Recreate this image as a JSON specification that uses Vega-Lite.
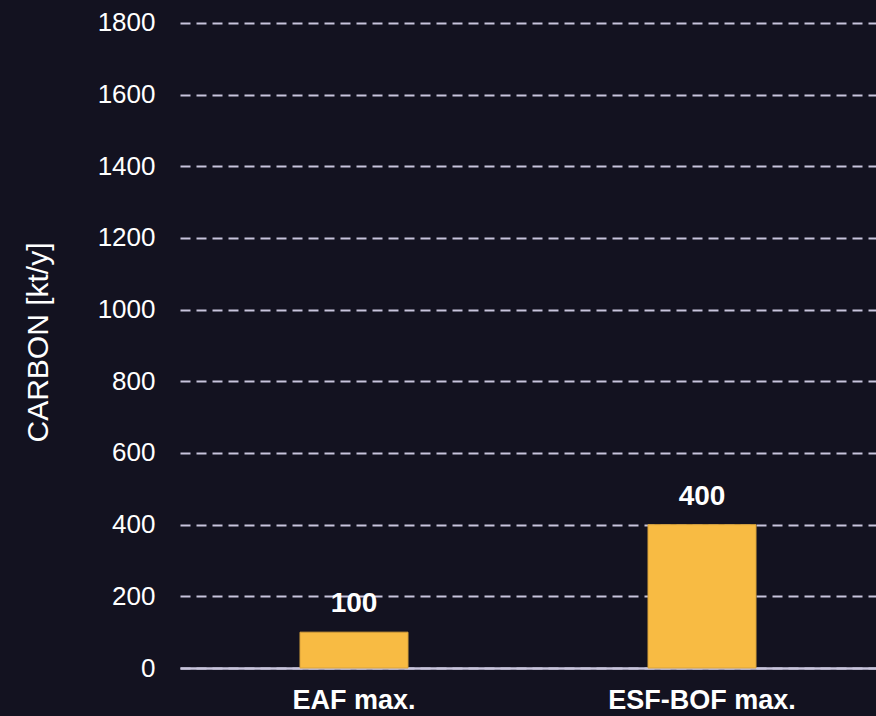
{
  "$schema": "https://vega.github.io/schema/vega-lite/v6.json",
  "autosize": {"type": "none"},
  "width": 696,
  "height": 668,
  "padding": {"left": 180, "top": 0, "right": 0, "bottom": 48},
  "background": "#131220",
  "config": {
    "view": {"stroke": null},
    "font": "Liberation Sans"
  },
  "data": {
    "values": [
      {"route": "EAF max.", "carbon": 100},
      {"route": "ESF-BOF max.", "carbon": 400}
    ]
  },
  "encoding": {
    "x": {
      "field": "route",
      "type": "nominal",
      "sort": null,
      "scale": {"paddingInner": 0, "paddingOuter": 0},
      "axis": {
        "title": null,
        "labelAngle": 0,
        "labelFont": "Liberation Sans",
        "labelFontSize": 27,
        "labelFontWeight": "bold",
        "labelColor": "#ffffff",
        "labelPadding": 19,
        "labelLimit": 400,
        "ticks": false,
        "domainColor": "#c8c4dc",
        "domainWidth": 2.5,
        "grid": false
      }
    },
    "y": {
      "field": "carbon",
      "type": "quantitative",
      "scale": {"domain": [0, 1864], "nice": false, "zero": true},
      "axis": {
        "title": "CARBON [kt/y]",
        "titleFont": "Liberation Sans",
        "titleFontSize": 30,
        "titleFontWeight": "normal",
        "titleColor": "#ffffff",
        "titleAngle": -90,
        "titleX": -142,
        "titleY": 342,
        "titleAlign": "center",
        "titleBaseline": "middle",
        "values": [0, 200, 400, 600, 800, 1000, 1200, 1400, 1600, 1800],
        "format": "d",
        "labelFont": "Liberation Sans",
        "labelFontSize": 26,
        "labelColor": "#ffffff",
        "labelPadding": 25,
        "ticks": false,
        "domain": false,
        "grid": true,
        "gridColor": "#c8c4dc",
        "gridDash": [10, 6],
        "gridWidth": 2
      }
    }
  },
  "layer": [
    {
      "mark": {"type": "bar", "width": 108, "color": "#f8bb43", "stroke": "#d9a23a", "strokeWidth": 1}
    },
    {
      "mark": {
        "type": "text",
        "baseline": "alphabetic",
        "dy": -20,
        "fontSize": 28,
        "fontWeight": "bold",
        "color": "#ffffff",
        "font": "Liberation Sans"
      },
      "encoding": {"text": {"field": "carbon", "type": "quantitative"}}
    }
  ]
}
